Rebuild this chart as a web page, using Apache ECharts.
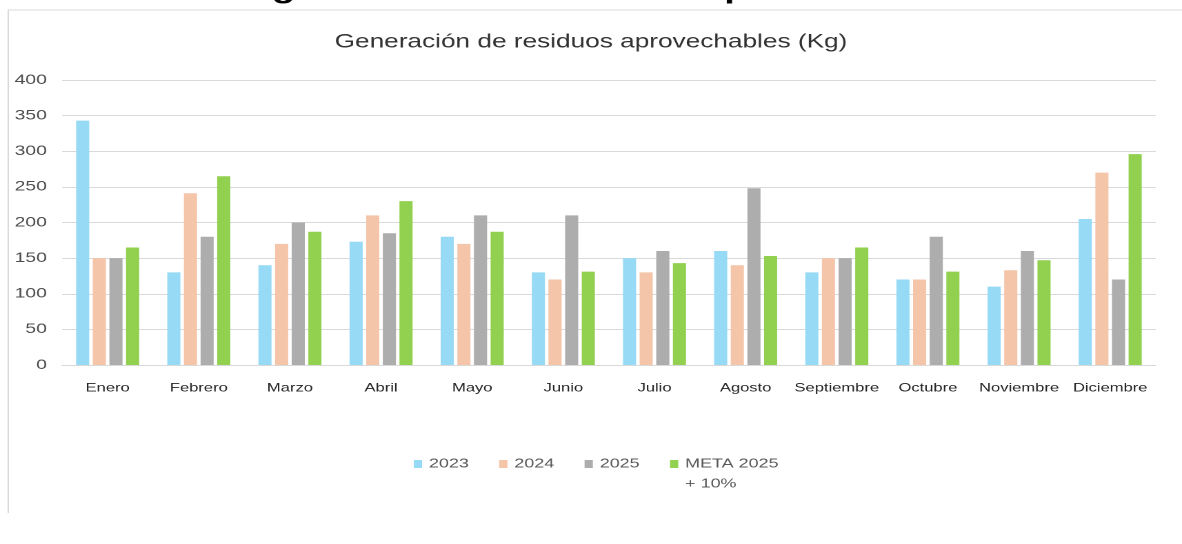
<!DOCTYPE html>
<html>
<head>
<meta charset="utf-8">
<script src="https://cdn.jsdelivr.net/npm/echarts@6/dist/echarts.min.js"></script>
<style>
  html, body { margin: 0; padding: 0; background: #ffffff; overflow: hidden; }
  #chart { width: 857px; height: 544px; transform: scaleX(1.3792); transform-origin: 0 0; }
</style>
</head>
<body>
<div id="chart"></div>
<script>
const categories = ['Enero','Febrero','Marzo','Abril','Mayo','Junio','Julio','Agosto','Septiembre','Octubre','Noviembre','Diciembre'];
const values2023 = [343, 130, 140, 173, 180, 130, 150, 160, 130, 120, 110, 205];
const values2024 = [150, 241, 170, 210, 170, 120, 130, 140, 150, 120, 133, 270];
const values2025 = [150, 180, 200, 185, 210, 210, 160, 248, 150, 180, 160, 120];
const valuesMeta = [165, 265, 187, 230, 187, 131, 143, 153, 165, 131, 147, 296];
const seriesNames = ['2023', '2024', '2025', 'META 2025 + 10%'];
const yTicks = { min: 0, max: 400, interval: 50 };
const chartTitle = 'Generación de residuos aprovechables (Kg)';

const colors = ['#97DAF6', '#F5C5A9', '#ADADAD', '#92D050'];
const chart = echarts.init(document.getElementById('chart'), null, { devicePixelRatio: 2 });

const seriesData = [values2023, values2024, values2025, valuesMeta];

chart.setOption({
  animation: false,
  backgroundColor: '#ffffff',
  title: {
    text: chartTitle,
    left: 'center',
    top: 28,
    textStyle: { fontFamily: '"Liberation Sans", sans-serif', fontSize: 19, fontWeight: 'normal', color: '#333333' }
  },
  graphic: [
    { type: 'polyline', shape: { points: [[6, 513], [6, 10], [870, 10]] }, style: { stroke: '#D9D9D9', lineWidth: 1, fill: null }, silent: true },
    { type: 'text', x: 197, y: -10, style: { text: 'g', font: 'bold 28px "Liberation Sans", sans-serif', fill: '#000', verticalAlign: 'middle' } },
    { type: 'text', x: 525, y: -10, style: { text: 'p', font: 'bold 28px "Liberation Sans", sans-serif', fill: '#000', verticalAlign: 'middle' } }
  ],
  legend: {
    top: 429,
    left: 295,
    itemWidth: 6,
    itemHeight: 8,
    itemGap: 22,
    icon: 'rect',
    textStyle: { fontFamily: '"Liberation Sans", sans-serif', fontSize: 13, color: '#595959', lineHeight: 20 },
    data: seriesNames.map(function (n) { return { name: n }; }),
    formatter: function (name) { return name === 'META 2025 + 10%' ? ' \nMETA 2025\n+ 10%' : name; }
  },
  grid: { left: 45, right: 19, top: 80, bottom: 179, containLabel: false },
  xAxis: {
    type: 'category',
    data: categories,
    axisLine: { lineStyle: { color: '#D9D9D9', width: 1 } },
    axisTick: { show: false },
    axisLabel: { interval: 0, margin: 17, fontFamily: '"Liberation Sans", sans-serif', fontSize: 12, color: '#262626' }
  },
  yAxis: {
    type: 'value',
    min: yTicks.min,
    max: yTicks.max,
    interval: yTicks.interval,
    axisLine: { show: false },
    axisTick: { show: false },
    splitLine: { lineStyle: { color: '#D9D9D9', width: 1 } },
    axisLabel: { margin: 11, fontFamily: '"Liberation Sans", sans-serif', fontSize: 14, color: '#4D4D4D' }
  },
  series: seriesNames.map(function (n, i) {
    return {
      name: n,
      type: 'bar',
      data: seriesData[i],
      barWidth: 9.5,
      barGap: '27%',
      itemStyle: { color: colors[i] }
    };
  })
});
</script>
</body>
</html>
